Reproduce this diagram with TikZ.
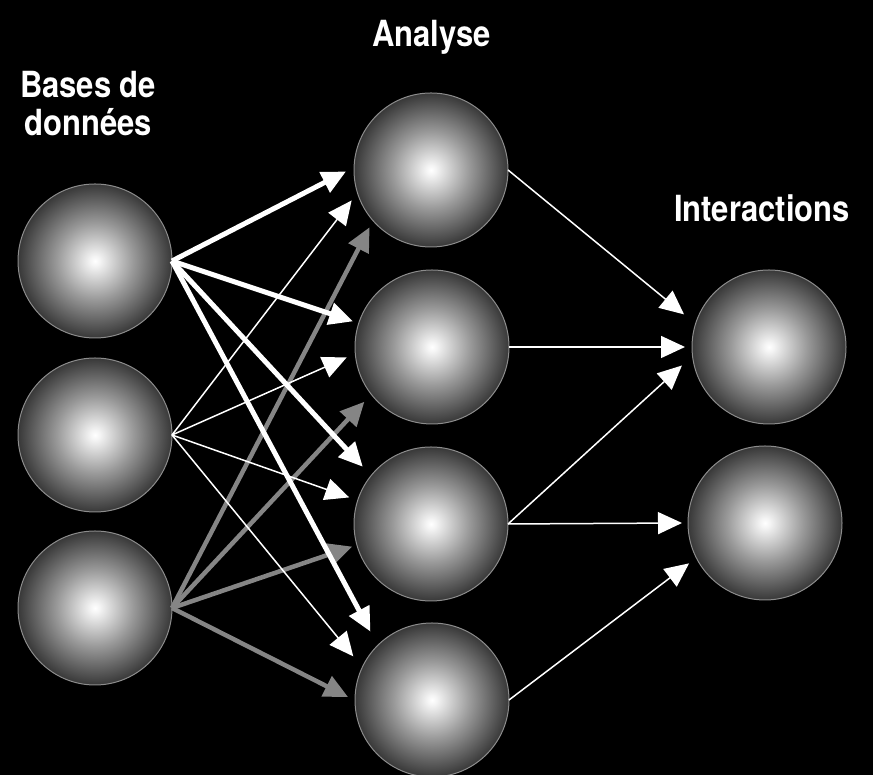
\documentclass[tikz,border=0pt]{standalone}
\usepackage{fontspec}
\setmainfont{TeX Gyre Heros}[FakeStretch=0.86]
\usetikzlibrary{arrows.meta}
\pgfdeclareradialshading{sphere}{\pgfpoint{0bp}{0bp}}{color(0bp)=(white); color(1.5bp)=(white!96!black); color(12.5bp)=(black!40); color(25bp)=(black!78); color(50bp)=(black!78)}

\begin{document}
\begin{tikzpicture}[x=1pt,y=1pt,
    ball/.style={circle,minimum size=154pt,inner sep=0pt,outer sep=0pt,shading=sphere,draw=black!45,line width=1pt},
    title/.style={text=white,inner sep=0pt,font=\bfseries\fontsize{36}{38}\selectfont,align=center},
    heavy/.style={-{Triangle[length=24pt,width=22pt]},white,line width=5pt},
    fine/.style={-{Triangle[length=24pt,width=22pt]},white,line width=1.5pt},
    greyarrow/.style={-{Triangle[length=24pt,width=22pt]},black!48,line width=4.5pt}]
    \path[use as bounding box,fill=black] (0,0) rectangle (873,775);
    \foreach \n/\y in {1/514,2/340,3/167}
    \node[ball] (l\n) at (95,\y) {};
    \foreach \n/\x/\y in {1/431/605,2/432/428,3/431/251,4/432/75}
    \node[ball] (m\n) at (\x,\y) {};
    \node[ball] (r1) at (769,428) {};
    \node[ball] (r2) at (765,252) {};
    \node[title] (bases) at (88,671) {Bases de\\données};
    \node[title,anchor=base] (analyse) at (431.5,728) {Analyse};
    \node[title,anchor=base] (inter) at (762,553) {Interactions};
    \foreach \m/\a/\d in {1/223/84,2/219/87,3/196/82,4/178/84}
    \draw[greyarrow] (l3.east) -- ([shift={(\a:\d)}]m\m.center);
    \foreach \m/\a/\d in {1/201/85,2/187/86,3/162/86,4/151/90}
    \draw[fine] (l2.east) -- ([shift={(\a:\d)}]m\m.center);
    \foreach \m/\a/\d in {1/181/85,2/162/83,3/140/89,4/132/92}
    \draw[heavy] (l1.east) -- ([shift={(\a:\d)}]m\m.center);
    \draw[fine] (m1.east) -- ([shift={(159:91)}]r1.center);
    \draw[fine] (m2.east) -- ([shift={(180:84)}]r1.center);
    \draw[fine] (m3.east) -- ([shift={(192:89)}]r1.center);
    \draw[fine] (m3.east) -- ([shift={(180:83)}]r2.center);
    \draw[fine] (m4.east) -- ([shift={(208:86)}]r2.center);
\end{tikzpicture}
\end{document}
